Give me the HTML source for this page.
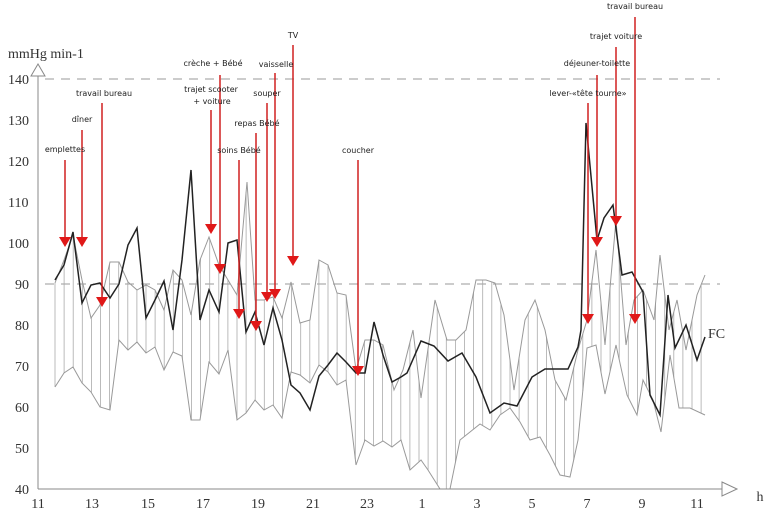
<!DOCTYPE html>
<html><head><meta charset="utf-8"><style>
html,body{margin:0;padding:0;background:#fff;width:769px;height:516px;overflow:hidden}
svg{display:block}
.ax{font-family:"Liberation Serif",serif;font-size:14px;fill:#333}
.lb{font-family:"DejaVu Sans","Liberation Sans",sans-serif;font-size:8px;fill:#222}
</style></head><body>
<svg id="s" width="769" height="516" viewBox="0 0 769 516" xmlns="http://www.w3.org/2000/svg">
<g stroke="#999" stroke-width="1" stroke-dasharray="9,7">
<line x1="45" y1="79" x2="720" y2="79"/>
<line x1="45" y1="284" x2="720" y2="284"/>
</g>
<g id="hatch" stroke="#aaa" stroke-width="0.8"></g>
<polyline id="up" fill="none" stroke="#999" stroke-width="1"/>
<polyline id="lo" fill="none" stroke="#999" stroke-width="1"/>
<polyline id="fc" fill="none" stroke="#222" stroke-width="1.5"/>
<g stroke="#888" stroke-width="1" fill="#fff">
<line x1="38" y1="489" x2="38" y2="74"/>
<path d="M31,76 L38,64 L45,76 Z"/>
<line x1="38" y1="489" x2="722" y2="489"/>
<path d="M722,482 L737,489 L722,496 Z"/>
</g>
<g class="ax">
<text x="8" y="58">mmHg min-1</text>
<text x="8" y="84">140</text><text x="8" y="125">130</text><text x="8" y="166">120</text>
<text x="8" y="207">110</text><text x="8" y="248">100</text><text x="15" y="289">90</text>
<text x="15" y="330">80</text><text x="15" y="371">70</text><text x="15" y="412">60</text>
<text x="15" y="453">50</text><text x="15" y="494">40</text>
<g text-anchor="middle">
<text x="38" y="508">11</text><text x="92" y="508">13</text><text x="148" y="508">15</text>
<text x="203" y="508">17</text><text x="258" y="508">19</text><text x="313" y="508">21</text>
<text x="367" y="508">23</text><text x="422" y="508">1</text><text x="477" y="508">3</text>
<text x="532" y="508">5</text><text x="587" y="508">7</text><text x="642" y="508">9</text>
<text x="697" y="508">11</text><text x="760" y="501">h</text>
</g>
<text x="708" y="338">FC</text>
</g>
<g id="arr" stroke="#d02020" stroke-width="1.5" fill="#e01818"></g>
<g class="lb" text-anchor="middle">
<text x="65" y="152">emplettes</text>
<text x="82" y="122">dîner</text>
<text x="104" y="96">travail bureau</text>
<text x="213" y="66">crèche + Bébé</text>
<text x="211" y="92">trajet scooter</text>
<text x="212" y="104">+ voiture</text>
<text x="239" y="153">soins Bébé</text>
<text x="257" y="126">repas Bébé</text>
<text x="267" y="96">souper</text>
<text x="276" y="67">vaisselle</text>
<text x="293" y="38">TV</text>
<text x="358" y="153">coucher</text>
<text x="588" y="96">lever-«tête tourne»</text>
<text x="597" y="66">déjeuner-toilette</text>
<text x="616" y="39">trajet voiture</text>
<text x="635" y="9">travail bureau</text>
</g>
</svg>
<script>
var NS="http://www.w3.org/2000/svg";
function interp(pts,x){for(var i=0;i<pts.length-1;i++){if(x>=pts[i][0]&&x<=pts[i+1][0]){var t=(x-pts[i][0])/(pts[i+1][0]-pts[i][0]);return pts[i][1]+t*(pts[i+1][1]-pts[i][1]);}}return pts[pts.length-1][1];}
var up=[[55,283],[64,260],[73,235],[82,280],[91,318],[100,305],[110,262],[119,262],[128,282],[137,290],[146,285],[155,290],[164,310],[173,270],[182,280],[191,315],[200,260],[209,237],[219,265],[228,280],[237,295],[247,182],[255,300],[264,300],[273,297],[282,318],[291,282],[300,323],[310,320],[319,260],[328,265],[337,293],[346,295],[356,370],[365,340],[374,340],[383,345],[394,390],[403,370],[413,330],[421,398],[435,300],[447,340],[456,340],[466,330],[476,280],[486,280],[495,283],[504,315],[514,390],[525,320],[535,300],[545,330],[555,380],[566,400],[578,350],[587,320],[596,250],[605,345],[616,220],[626,345],[634,300],[643,290],[654,320],[660,255],[669,330],[677,300],[686,350],[697,295],[705,275]];
var lo=[[55,387],[64,373],[73,367],[82,383],[91,392],[100,407],[110,410],[119,340],[128,350],[137,342],[146,353],[155,347],[164,370],[173,352],[182,356],[191,420],[200,420],[209,362],[219,374],[228,350],[237,420],[246,413],[255,400],[264,410],[273,405],[282,418],[291,372],[300,375],[310,383],[319,365],[328,372],[337,385],[346,380],[356,465],[365,440],[374,446],[383,441],[392,447],[401,440],[410,470],[421,460],[428,470],[440,489],[450,489],[460,440],[470,432],[480,424],[490,430],[500,415],[510,408],[520,422],[530,440],[540,437],[550,455],[560,475],[570,477],[578,440],[587,348],[596,345],[605,394],[616,345],[627,395],[637,415],[643,380],[653,400],[661,432],[670,355],[679,408],[690,408],[705,415]];
var fc=[[55,280],[64,265],[73,232],[82,303],[91,285],[100,283],[110,298],[119,284],[128,245],[137,228],[146,318],[155,300],[164,281],[173,330],[182,260],[191,170],[200,320],[209,290],[219,312],[228,243],[237,240],[246,332],[255,312],[264,345],[273,308],[282,340],[291,385],[300,393],[310,410],[319,376],[328,365],[337,353],[346,362],[356,373],[365,373],[374,322],[383,355],[392,382],[401,377],[407,373],[421,341],[434,346],[448,361],[462,353],[476,377],[490,413],[504,403],[517,406],[532,377],[545,369],[568,369],[578,347],[581,330],[586,123],[597,240],[604,218],[613,205],[622,275],[632,272],[643,292],[650,395],[660,415],[668,295],[675,348],[686,325],[697,360],[705,337]];
function ps(a){return a.map(function(p){return p[0]+","+p[1]}).join(" ");}
document.getElementById("up").setAttribute("points",ps(up));
document.getElementById("lo").setAttribute("points",ps(lo));
document.getElementById("fc").setAttribute("points",ps(fc));
var h=document.getElementById("hatch");
for(var x=55;x<=706;x+=9.1){var l=document.createElementNS(NS,"line");l.setAttribute("x1",x);l.setAttribute("x2",x);l.setAttribute("y1",interp(up,x));l.setAttribute("y2",interp(lo,x));h.appendChild(l);}
var ar=[[65,160,247],[82,130,247],[102,103,307],[220,75,274],[211,110,234],[239,160,319],[256,133,331],[267,103,302],[275,73,299],[293,45,266],[358,160,376],[588,103,324],[597,75,247],[616,47,226],[635,17,324]];
var g=document.getElementById("arr");
ar.forEach(function(a){var l=document.createElementNS(NS,"line");l.setAttribute("x1",a[0]);l.setAttribute("x2",a[0]);l.setAttribute("y1",a[1]);l.setAttribute("y2",a[2]-8);g.appendChild(l);
var p=document.createElementNS(NS,"path");p.setAttribute("stroke","none");p.setAttribute("d","M"+(a[0]-6)+","+(a[2]-10)+" L"+(a[0]+6)+","+(a[2]-10)+" L"+a[0]+","+a[2]+" Z");g.appendChild(p);});
</script>
</body></html>
